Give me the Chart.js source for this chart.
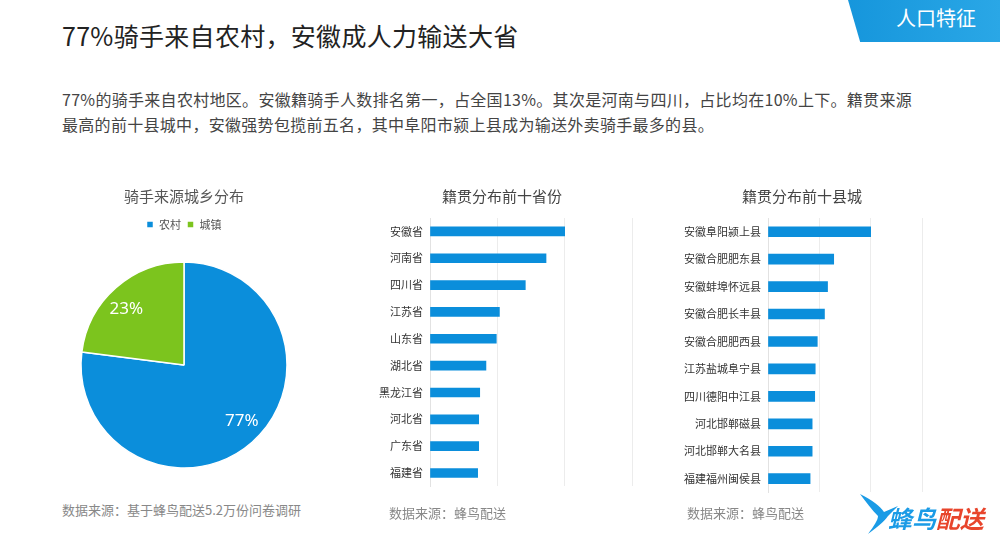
<!DOCTYPE html>
<html lang="zh">
<head>
<meta charset="UTF-8">
<title>骑手来源</title>
<script src="https://cdn.jsdelivr.net/npm/chart.js"></script>
<style>
    body { margin: 0; background: #fff; font-family: "Noto Sans CJK SC", "Noto Sans", sans-serif; }
    #page { position: relative; width: 1000px; height: 549px; overflow: hidden; background: #fff; }
    .abs { position: absolute; white-space: nowrap; }
    #heading { left: 62px; top: 18px; font-size: 25px; color: #222; line-height: 34px; letter-spacing: 0.3px; }
    #intro { left: 62px; top: 87px; font-size: 16px; color: #444; line-height: 25px; letter-spacing: 0.3px; }
    #tag { left: 848px; top: 0; width: 152px; height: 42px; background: linear-gradient(90deg, #1696dc, #2aa7e6);
           clip-path: polygon(0 0, 100% 0, 100% 100%, 8% 100%); }
    #tagText { left: 896px; top: 5px; font-size: 20px; color: #fff; line-height: 26px; }
    .src { font-size: 13px; color: #888; line-height: 16px; }
    #logo { left: 888px; top: 503px; font-size: 24px; font-weight: bold; font-style: italic; line-height: 30px; }
    canvas { position: absolute; }
</style>
</head>
<body>
<div id="page">
    <div id="heading" class="abs">77%骑手来自农村，安徽成人力输送大省</div>
    <div id="intro" class="abs">77%的骑手来自农村地区。安徽籍骑手人数排名第一，占全国13%。其次是河南与四川，占比均在10%上下。籍贯来源<br>最高的前十县城中，安徽强势包揽前五名，其中阜阳市颍上县成为输送外卖骑手最多的县。</div>
    <div id="tag" class="abs"></div>
    <div id="tagText" class="abs">人口特征</div>

    <canvas id="pieChart" width="248" height="310" style="left:60px; top:180px;"></canvas>
    <canvas id="provinceChart" width="268" height="320" style="left:372px; top:180px;"></canvas>
    <canvas id="countyChart" width="248" height="326" style="left:682px; top:180px;"></canvas>

    <div class="abs src" style="left:62px; top:502px;">数据来源：基于蜂鸟配送5.2万份问卷调研</div>
    <div class="abs src" style="left:389px; top:505px;">数据来源：蜂鸟配送</div>
    <div class="abs src" style="left:687px; top:505px;">数据来源：蜂鸟配送</div>

    <svg class="abs" style="left:858px; top:492px;" width="44" height="44" viewBox="0 0 44 44">
        <path d="M2 2 C14 8 22 14 26 20 L40 14 L30 24 C26 30 18 36 10 42 C16 34 20 28 20 24 C14 18 8 10 2 2 Z" fill="#1a9be6"/>
    </svg>
    <div id="logo" class="abs"><span style="color:#1a9be6">蜂鸟</span><span style="color:#e8452c">配送</span></div>
</div>

<script>
    // 城乡分布
    const pieCategories = ['农村', '城镇'];
    const pieShares = [77, 23];

    // 籍贯分布前十省份
    const provinces = ['安徽省', '河南省', '四川省', '江苏省', '山东省', '湖北省', '黑龙江省', '河北省', '广东省', '福建省'];
    const provinceValues = [13.0, 11.2, 9.2, 6.7, 6.4, 5.4, 4.8, 4.7, 4.7, 4.6];

    // 籍贯分布前十县城
    const counties = ['安徽阜阳颍上县', '安徽合肥肥东县', '安徽蚌埠怀远县', '安徽合肥长丰县', '安徽合肥肥西县',
                      '江苏盐城阜宁县', '四川德阳中江县', '河北邯郸磁县', '河北邯郸大名县', '福建福州闽侯县'];
    const countyValues = [2.0, 1.28, 1.16, 1.10, 0.96, 0.92, 0.91, 0.86, 0.86, 0.82];

    const blue = '#0b8edb';
    const green = '#7cc41e';

    Chart.defaults.font.family = '"Noto Sans CJK SC", "Noto Sans", sans-serif';
    Chart.defaults.animation = false;

    // 饼图内的百分比标签
    const sliceLabels = {
        id: 'sliceLabels',
        afterDatasetsDraw(chart) {
            const ctx = chart.ctx;
            const meta = chart.getDatasetMeta(0);
            ctx.save();
            ctx.fillStyle = '#fff';
            ctx.font = '17px "Noto Sans", sans-serif';
            ctx.textAlign = 'center';
            ctx.textBaseline = 'middle';
            meta.data.forEach((arc, i) => {
                const mid = (arc.startAngle + arc.endAngle) / 2 - 0.08;
                const r = arc.outerRadius * 0.78;
                ctx.fillText(pieShares[i] + '%', arc.x + Math.cos(mid) * r, arc.y + Math.sin(mid) * r);
            });
            ctx.restore();
        }
    };

    new Chart(document.getElementById('pieChart'), {
        type: 'pie',
        data: {
            labels: pieCategories,
            datasets: [{
                data: pieShares,
                backgroundColor: [blue, green],
                borderColor: '#fff',
                borderWidth: 1.5,
                radius: 103
            }]
        },
        options: {
            responsive: false,
            plugins: {
                title: {
                    display: true,
                    text: '骑手来源城乡分布',
                    color: '#555',
                    font: { size: 15, weight: 'normal' },
                    padding: { top: 7, bottom: 8 }
                },
                legend: {
                    labels: { boxWidth: 7, boxHeight: 7, color: '#555', font: { size: 11 }, padding: 6 }
                },
                tooltip: { enabled: false }
            }
        },
        plugins: [sliceLabels]
    });

    function rankChart(canvasId, title, labels, values, axisWidth, padRight, maxValue, step, thickness) {
        new Chart(document.getElementById(canvasId), {
            type: 'bar',
            data: {
                labels: labels,
                datasets: [{
                    data: values,
                    backgroundColor: blue,
                    barThickness: thickness
                }]
            },
            options: {
                responsive: false,
                indexAxis: 'y',
                layout: { padding: { right: padRight, bottom: 0 } },
                scales: {
                    x: {
                        min: 0,
                        max: maxValue,
                        ticks: { display: false, stepSize: step },
                        grid: { color: '#ececec', drawTicks: false },
                        border: { display: false }
                    },
                    y: {
                        afterFit(scale) { scale.width = axisWidth; },
                        ticks: { color: '#333', font: { size: 11 }, padding: 7 },
                        grid: { display: false, drawTicks: false },
                        border: { color: '#e2e2e2' }
                    }
                },
                plugins: {
                    legend: { display: false },
                    tooltip: { enabled: false },
                    title: {
                        display: true,
                        text: title,
                        color: '#444',
                        font: { size: 15, weight: 'normal' },
                        padding: { top: 7, bottom: 13 }
                    }
                }
            }
        });
    }

    rankChart('provinceChart', '籍贯分布前十省份', provinces, provinceValues, 58, 8, 19.5, 6.5, 9);
    rankChart('countyChart', '籍贯分布前十县城', counties, countyValues, 86, 8, 3, 1, 10);
</script>
</body>
</html>
